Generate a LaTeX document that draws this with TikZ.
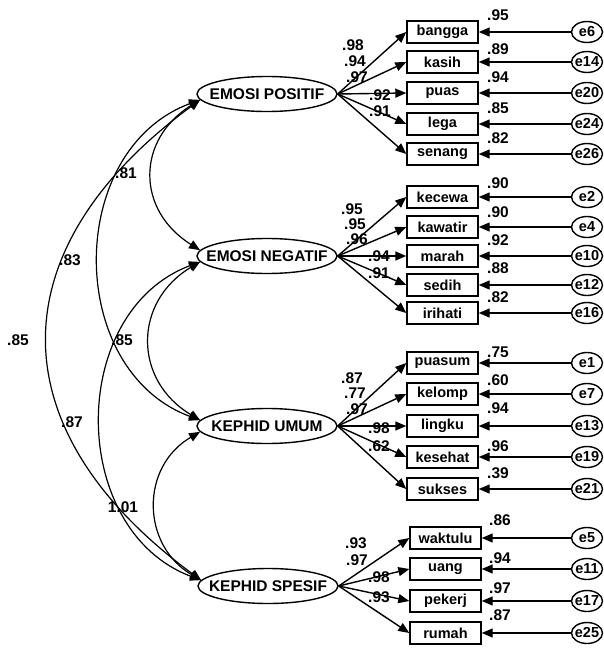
\documentclass[tikz,border=0pt]{standalone}
\usepackage{fontspec}
\setmainfont{Liberation Sans}
\usetikzlibrary{arrows.meta,shapes.geometric}

\begin{document}
\begin{tikzpicture}[x=1pt,y=-1pt,font=\fontsize{15.5}{17}\selectfont\bfseries]
	\useasboundingbox (0,0) rectangle (603,648);
	\tikzstyle{LatentStyle}=[draw,ellipse,line width=1.4pt,minimum width=140pt,minimum height=35pt,inner sep=0pt]
	\tikzstyle{ItemStyle}=[draw,rectangle,line width=1.4pt,minimum width=71pt,minimum height=22pt,inner sep=0pt,font=\fontsize{14.5}{16}\selectfont\bfseries]
	\tikzstyle{ErrorStyle}=[draw,ellipse,line width=1.4pt,minimum width=31pt,minimum height=21pt,inner sep=0pt]
	\tikzstyle{EdgeStyle}=[line width=1.4pt,-{Triangle[length=11pt,width=9pt]}]
	\tikzstyle{CovStyle}=[line width=1.2pt,{Triangle[length=11pt,width=9pt]}-{Triangle[length=11pt,width=9pt]}]
	\tikzstyle{NumStyle}=[inner sep=0pt]
	\tikzset{every label/.style={font=\fontsize{14.5}{16}\selectfont\bfseries}}
	% latent variables
	\node[LatentStyle,label={[font=\fontsize{15.5}{17}\selectfont\bfseries]center:EMOSI POSITIF}] (EP) at (267,94) {};
	\node[LatentStyle,label={[font=\fontsize{15.5}{17}\selectfont\bfseries]center:EMOSI NEGATIF}] (EN) at (267,256) {};
	\node[LatentStyle,label={[font=\fontsize{15.5}{17}\selectfont\bfseries]center:KEPHID UMUM}] (KU) at (267,426) {};
	\node[LatentStyle,label={[font=\fontsize{15.5}{17}\selectfont\bfseries]center:KEPHID SPESIF}] (KS) at (268,586) {};
	% indicators: name/y/error/r2/r2 y/loading/loading x/loading y
	\foreach \ind/\yy/\ename/\rsq/\ry/\lam/\lx/\ly in {
		bangga/32/e6/.95/15/.98/353/45, kasih/62/e14/.89/49/.94/355/61,
		puas/93/e20/.94/77/.97/357/77, lega/124/e24/.85/108/.92/380/95,
		senang/154/e26/.82/138/.91/380/111}{
		\node[ItemStyle] (\ind) at (442.5,\yy) {\ind};
		\node[ErrorStyle,label=center:\ename] (\ename) at (587,\yy) {};
		\draw[EdgeStyle] (\ename) -- (\ind);
		\draw[EdgeStyle] (EP.east) -- (\ind.west);
		\node[NumStyle] (r\ename) at (498,\ry) {\rsq};
		\node[NumStyle] (l\ename) at (\lx,\ly) {\lam};
	}
	\foreach \ind/\yy/\ename/\rsq/\ry/\lam/\lx/\ly in {
		kecewa/197/e2/.90/183/.95/352/209, kawatir/227/e4/.90/212/.95/355/224,
		marah/256/e10/.92/240/.96/357/239, sedih/285/e12/.88/268/.94/379/256,
		irihati/313/e16/.82/297/.91/379/273}{
		\node[ItemStyle] (\ind) at (442.5,\yy) {\ind};
		\node[ErrorStyle,label=center:\ename] (\ename) at (587,\yy) {};
		\draw[EdgeStyle] (\ename) -- (\ind);
		\draw[EdgeStyle] (EN.east) -- (\ind.west);
		\node[NumStyle] (r\ename) at (498,\ry) {\rsq};
		\node[NumStyle] (l\ename) at (\lx,\ly) {\lam};
	}
	\foreach \ind/\yy/\ename/\rsq/\ry/\lam/\lx/\ly in {
		puasum/363/e1/.75/352/.87/352/378, kelomp/394/e7/.60/380/.77/355/393,
		lingku/426/e13/.94/408/.97/357/409, kesehat/457/e19/.96/446/.98/379/428,
		sukses/489/e21/.39/473/.62/379/446}{
		\node[ItemStyle] (\ind) at (442.5,\yy) {\ind};
		\node[ErrorStyle,label=center:\ename] (\ename) at (587,\yy) {};
		\draw[EdgeStyle] (\ename) -- (\ind);
		\draw[EdgeStyle] (KU.east) -- (\ind.west);
		\node[NumStyle] (r\ename) at (498,\ry) {\rsq};
		\node[NumStyle] (l\ename) at (\lx,\ly) {\lam};
	}
	\foreach \ind/\yy/\ename/\rsq/\ry/\lam/\lx/\ly in {
		waktulu/538/e5/.86/520/.93/356/543, uang/569/e11/.94/558/.97/357/560,
		pekerj/601/e17/.97/588/.98/379/577, rumah/633/e25/.87/615/.93/379/597}{
		\node[ItemStyle] (\ind) at (445.5,\yy) {\ind};
		\node[ErrorStyle,label=center:\ename] (\ename) at (587,\yy) {};
		\draw[EdgeStyle] (\ename) -- (\ind);
		\draw[EdgeStyle] (KS.east) -- (\ind.west);
		\node[NumStyle] (r\ename) at (500,\ry) {\rsq};
		\node[NumStyle] (l\ename) at (\lx,\ly) {\lam};
	}
	% correlations
	\draw[CovStyle] (EP.185) .. controls +(-64,40) and +(-64,-40) .. (EN.175);
	\draw[CovStyle] (EP.185) .. controls +(-135,50) and +(-135,-50) .. (KU.175);
	\draw[CovStyle] (EP.185) .. controls +(-204,150) and +(-204,-150) .. (KS.175);
	\draw[CovStyle] (EN.185) .. controls +(-67,40) and +(-67,-40) .. (KU.175);
	\draw[CovStyle] (EN.185) .. controls +(-133,50) and +(-133,-50) .. (KS.175);
	\draw[CovStyle] (KU.185) .. controls +(-60,35) and +(-60,-35) .. (KS.175);
	\node[NumStyle] (c1) at (126,173) {.81};
	\node[NumStyle] (c2) at (70,260) {.83};
	\node[NumStyle] (c3) at (18,340) {.85};
	\node[NumStyle] (c4) at (122,340) {.85};
	\node[NumStyle] (c5) at (72,422) {.87};
	\node[NumStyle] (c6) at (123,507) {1.01};
\end{tikzpicture}
\end{document}
